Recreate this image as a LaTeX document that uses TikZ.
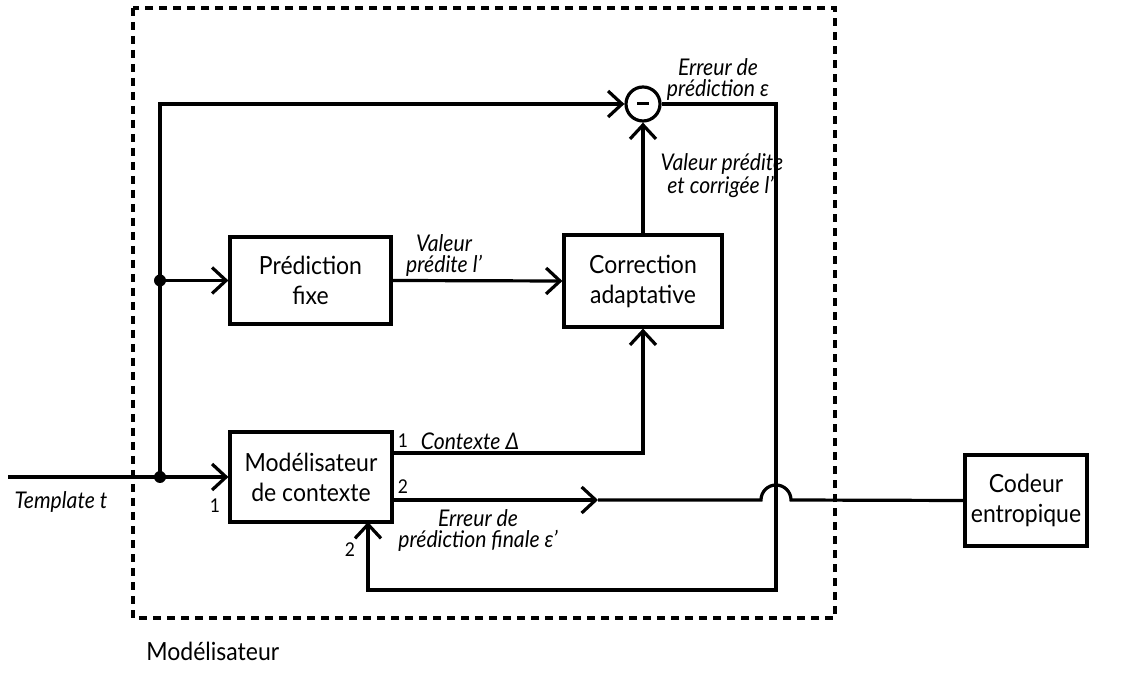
\documentclass[tikz,border=0pt]{standalone}
\usepackage{fontspec}
\setmainfont{Lato}[FakeStretch=0.92]
\usetikzlibrary{arrows.meta,calc}
\begin{document}
\begin{tikzpicture}[x=0.5pt,y=-0.5pt,
  wire/.style={line width=1.6pt},
  arr/.style={wire,-{Straight Barb[length=7pt,width=13pt,line width=1.6pt]}},
  blk/.style={draw,line width=1.6pt,align=center,font=\fontsize{12.5}{15}\selectfont,inner sep=0pt},
  lbl/.style={align=center,font=\fontsize{11.5}{10.5}\itshape,inner sep=0pt},
  num/.style={font=\fontsize{9.5}{10}\selectfont,inner sep=0pt},
  dot/.style={circle,fill,inner sep=0pt,minimum size=6pt}]
\useasboundingbox (0,0) rectangle (1122,688);

% module frame
\draw[line width=1.6pt,dash pattern=on 4pt off 3pt] (133,8) rectangle (835,618);
\node[font=\fontsize{12.5}{14}\selectfont,anchor=west,inner sep=0pt] (modname) at (146,651) {Modélisateur};

% blocks
\node[blk,minimum width=80.5pt,minimum height=43.5pt] (pf) at (310.5,280.5) {Prédiction\\fixe};
\node[blk,minimum width=79pt,minimum height=46pt] (corr) at (643,281) {Correction\\adaptative};
\node[blk,minimum width=81pt,minimum height=45pt] (mod) at (311,477) {Modélisateur\\de contexte};
\node[blk,minimum width=61pt,minimum height=45.5pt] (cod) at (1026,500.5) {Codeur\\entropique};
\node[circle,draw,line width=1.6pt,minimum size=17pt,inner sep=0pt] (sub) at (643,104) {};
\draw[line width=1.5pt] ($(sub.center)+(-6,0)$) -- ($(sub.center)+(6,0)$);

% junctions and ports
\coordinate (src) at (8,477);
\coordinate (jin) at (160,477);
\coordinate (jfix) at (160,280.5);
\coordinate (o1) at (392,453);
\coordinate (o2) at (392,500);
\coordinate (mid) at (598,500);
\coordinate (hop) at (761,500);
\coordinate (fbr) at (776,590);
\coordinate (fbin) at (368,522);

% wires
\draw[arr] (src) -- (mod.west);
\draw[arr] (jin) |- (sub.west);
\draw[arr] (jfix) -- (pf.west);
\draw[arr] (pf.east) -- (corr.west);
\draw[arr] (corr.north) -- (sub.south);
\draw[arr] (o1) -| (corr.south);
\draw[arr] (sub.east) -| (fbr) -| (fbin);
\draw[arr] (o2) -- (mid);
\draw[wire] (mid) -- (hop) arc[start angle=180,end angle=0,radius=7.5pt] -- (cod.west);
\node[dot] at (jin) {};
\node[dot] at (jfix) {};

% labels
\node[lbl] (lerr) at (718,80) {Erreur de\\prédiction ε};
\node[lbl] (lcorr) at (722,176) {Valeur prédite\\et corrigée l”};
\node[lbl] (lval) at (444,256) {Valeur\\prédite l’};
\node[lbl] (lctx) at (470,441) {Contexte Δ};
\node[lbl] (lfin) at (478,531) {Erreur de\\prédiction finale ε’};
\node[lbl] (ltpl) at (61,502) {Template t};
\node[num] (n1a) at (403,441) {1};
\node[num] (n2a) at (403,487) {2};
\node[num] (n1b) at (215,506) {1};
\node[num] (n2b) at (350,550) {2};
\end{tikzpicture}
\end{document}
